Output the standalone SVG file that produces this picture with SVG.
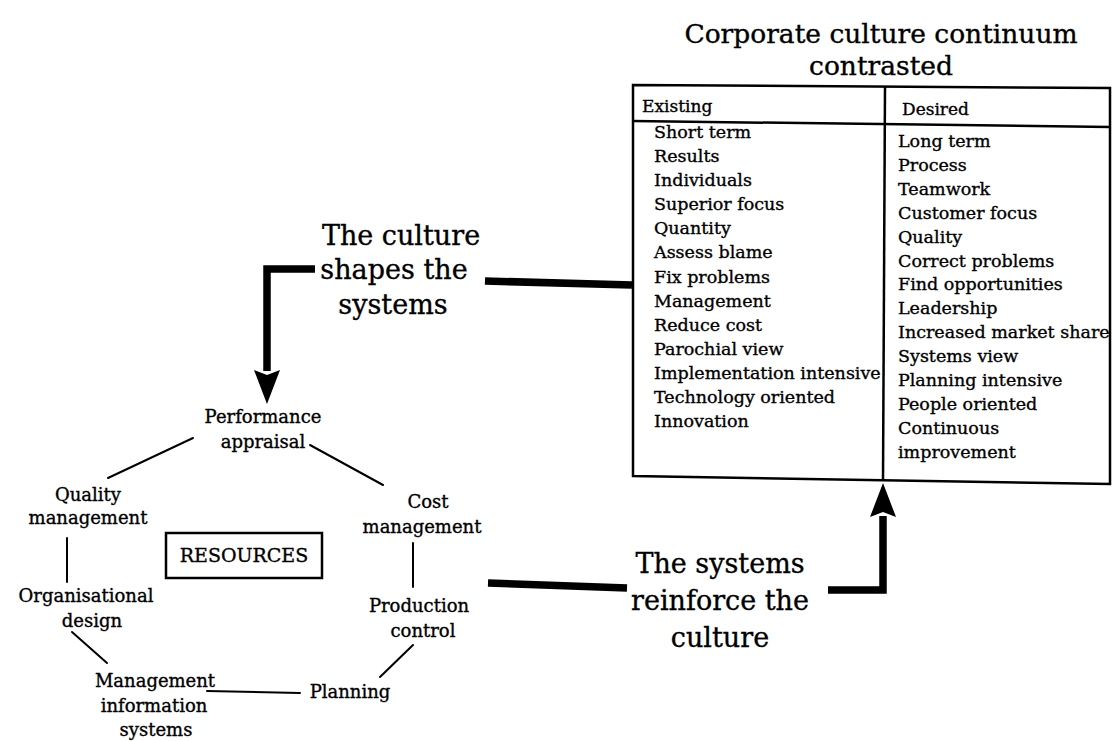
<svg xmlns="http://www.w3.org/2000/svg" width="1114" height="741" viewBox="0 0 1114 741">
  <style>
    text { font-family: "DejaVu Serif", "Liberation Serif", serif; fill: #000; stroke: #000; stroke-width: 0.35; }
    .title { font-size: 26.5px; text-anchor: middle; }
    .big { font-size: 27px; text-anchor: middle; }
    .item { font-size: 17.5px; }
    .head { font-size: 17px; }
    .node { font-size: 18px; text-anchor: middle; }
    .res { font-size: 19px; text-anchor: middle; }
    .frame { fill: none; stroke: #000; stroke-width: 2.5; stroke-linejoin: miter; }
    .thin { fill: none; stroke: #000; stroke-width: 2; stroke-linecap: round; }
    .thick { fill: none; stroke: #000; stroke-width: 7.5; stroke-linecap: butt; stroke-linejoin: miter; }
  </style>
  <defs>
    <marker id="ah" markerUnits="userSpaceOnUse" viewBox="0 0 34 26" markerWidth="34" markerHeight="26" refX="1" refY="13" orient="auto">
      <path d="M0,0 L34,13 L0,26 L5,13 Z" fill="#000"/>
    </marker>
  </defs>
  <rect width="1114" height="741" fill="#fff"/>

  <g id="table">
    <text class="title" x="881" y="43">Corporate culture continuum</text>
    <text class="title" x="881" y="75">contrasted</text>
    <polygon class="frame" points="633,85 1110,88 1110,484 633,476"/>
    <line class="frame" x1="633" y1="121" x2="1110" y2="127"/>
    <line class="frame" x1="885" y1="86" x2="883" y2="481"/>
    <text class="head" x="642" y="112">Existing</text>
    <text class="head" x="902" y="115">Desired</text>
    <g id="existing">
      <text class="item" x="654" y="138">Short term</text>
      <text class="item" x="654" y="162">Results</text>
      <text class="item" x="654" y="186">Individuals</text>
      <text class="item" x="654" y="210">Superior focus</text>
      <text class="item" x="654" y="234">Quantity</text>
      <text class="item" x="654" y="258">Assess blame</text>
      <text class="item" x="654" y="283">Fix problems</text>
      <text class="item" x="654" y="307">Management</text>
      <text class="item" x="654" y="331">Reduce cost</text>
      <text class="item" x="654" y="355">Parochial view</text>
      <text class="item" x="654" y="379">Implementation intensive</text>
      <text class="item" x="654" y="403">Technology oriented</text>
      <text class="item" x="654" y="427">Innovation</text>
    </g>
    <g id="desired">
      <text class="item" x="898" y="147">Long term</text>
      <text class="item" x="898" y="171">Process</text>
      <text class="item" x="898" y="195">Teamwork</text>
      <text class="item" x="898" y="219">Customer focus</text>
      <text class="item" x="898" y="243">Quality</text>
      <text class="item" x="898" y="267">Correct problems</text>
      <text class="item" x="898" y="290">Find opportunities</text>
      <text class="item" x="898" y="314">Leadership</text>
      <text class="item" x="898" y="338">Increased market share</text>
      <text class="item" x="898" y="362">Systems view</text>
      <text class="item" x="898" y="386">Planning intensive</text>
      <text class="item" x="898" y="410">People oriented</text>
      <text class="item" x="898" y="434">Continuous</text>
      <text class="item" x="898" y="458">improvement</text>
    </g>
  </g>

  <g id="label-shapes">
    <text class="big" x="401" y="245">The culture</text>
    <text class="big" x="394" y="279">shapes the</text>
    <text class="big" x="393" y="314">systems</text>
  </g>

  <g id="label-reinforce">
    <text class="big" x="720" y="573">The systems</text>
    <text class="big" x="720" y="610">reinforce the</text>
    <text class="big" x="720" y="647">culture</text>
  </g>

  <g id="performance-appraisal">
    <text class="node" x="263" y="423">Performance</text>
    <text class="node" x="263" y="448">appraisal</text>
  </g>
  <g id="quality-management">
    <text class="node" x="88" y="501">Quality</text>
    <text class="node" x="88" y="524">management</text>
  </g>
  <g id="cost-management">
    <text class="node" x="428" y="508">Cost</text>
    <text class="node" x="422" y="533">management</text>
  </g>
  <g id="production-control">
    <text class="node" x="419" y="612">Production</text>
    <text class="node" x="423" y="637">control</text>
  </g>
  <g id="planning">
    <text class="node" x="350" y="698">Planning</text>
  </g>
  <g id="mis">
    <text class="node" x="155" y="687">Management</text>
    <text class="node" x="154" y="712">information</text>
    <text class="node" x="156" y="736">systems</text>
  </g>
  <g id="organisational-design">
    <text class="node" x="86" y="602">Organisational</text>
    <text class="node" x="92" y="627">design</text>
  </g>
  <g id="resources">
    <rect x="166" y="533" width="156" height="45" fill="none" stroke="#000" stroke-width="2.5"/>
    <text class="res" x="244" y="562">RESOURCES</text>
  </g>

  <g id="connectors">
    <line class="thin" x1="108" y1="478" x2="193" y2="438"/>
    <line class="thin" x1="310" y1="445" x2="383" y2="485"/>
    <line class="thin" x1="413" y1="543" x2="413" y2="587"/>
    <line class="thin" x1="413" y1="645" x2="380" y2="677"/>
    <line class="thin" x1="207" y1="691" x2="300" y2="693"/>
    <line class="thin" x1="107" y1="663" x2="72" y2="632"/>
    <line class="thin" x1="67" y1="538" x2="67" y2="582"/>
    <line class="thick" x1="485" y1="281" x2="632" y2="285"/>
    <path class="thick" d="M315,269 H267 V371" marker-end="url(#ah)"/>
    <line class="thick" x1="488" y1="583" x2="627" y2="588"/>
    <path class="thick" d="M828,590 H883 V516" marker-end="url(#ah)"/>
  </g>
</svg>
